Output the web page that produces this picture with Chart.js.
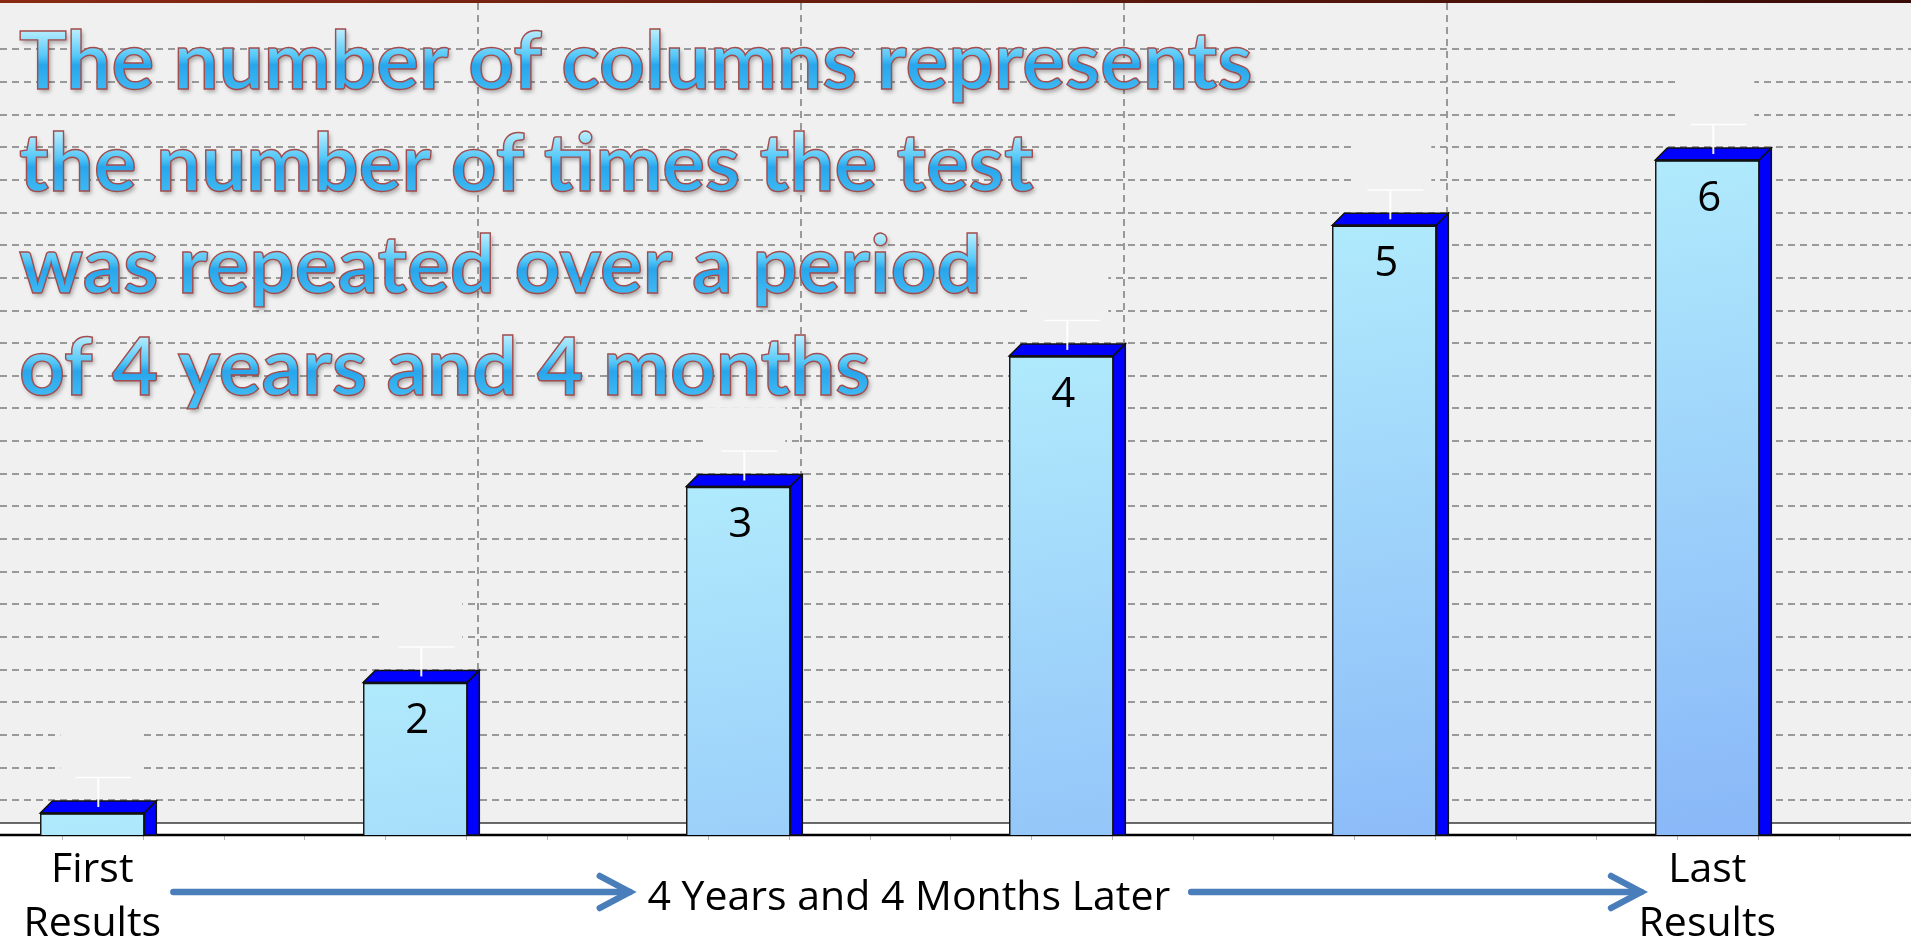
<!DOCTYPE html>
<html>
<head>
<meta charset="utf-8">
<script src="https://cdn.jsdelivr.net/npm/chart.js@4"></script>
<style>
  html, body { margin: 0; padding: 0; background: #fff; }
  #main_chart { display: block; }
</style>
</head>
<body>
<canvas id="main_chart" width="1911" height="943"></canvas>
<script>
// data
const categories = [['First', 'Results'], '', '', '', '', ['Last', 'Results']];
const positions = [1, 2, 3, 4, 5, 6];
const counts = [1, 5, 11, 15, 19, 21];
const test_numbers = [1, 2, 3, 4, 5, 6];
const error_plus = [0.9, 0.9, 0.9, 0.9, 0.9, 0.9];
const title_lines = [
  'The number of columns represents',
  'the number of times the test',
  'was repeated over a period',
  'of 4 years and 4 months',
];
const span_label = '4 Years and 4 Months Later';

// scale ranges (pixel layout of the original)
const x_min = 0.7142, x_max = 6.6306;
const grid_shift = 0.193;
const y_min = 0.326, y_max = 25.808;
const back_shift = 0.389;
const DEPTH = 12;

const grid_color = '#999999';

const front_gradient = (ctx) => {
  const { chart, dataIndex } = ctx;
  const { chartArea, scales } = chart;
  if (!chartArea || !scales.y) return '#a8e2fa';
  const top = scales.y.getPixelForValue(counts[dataIndex]);
  const cx = scales.x.getPixelForValue(positions[dataIndex]);
  const g = chart.ctx.createLinearGradient(cx - 52, top, cx + 52, top + 690);
  g.addColorStop(0, '#b0eafc');
  g.addColorStop(1, '#88b6f8');
  return g;
};

const line = (ctx, x1, y1, x2, y2) => {
  ctx.beginPath();
  ctx.moveTo(x1, y1);
  ctx.lineTo(x2, y2);
  ctx.stroke();
};

const arrow = (ctx, x1, x2, y) => {
  ctx.beginPath();
  ctx.moveTo(x1, y);
  ctx.lineTo(x2, y);
  ctx.stroke();
  ctx.beginPath();
  ctx.moveTo(x2 - 30, y - 16);
  ctx.lineTo(x2, y);
  ctx.lineTo(x2 - 30, y + 16);
  ctx.stroke();
};

const wall_plugin = {
  id: 'wall',
  beforeDraw(chart) {
    const { ctx, chartArea: a, width, height } = chart;
    ctx.save();
    ctx.fillStyle = '#ffffff';
    ctx.fillRect(0, 0, width, height);
    ctx.fillStyle = '#f0f0f0';
    ctx.fillRect(a.left, 0, a.right - a.left, a.bottom);
    ctx.restore();
  },
  beforeDatasetsDraw(chart) {
    const { ctx, chartArea: a, scales: { x, y } } = chart;
    ctx.save();
    // floor
    ctx.fillStyle = '#ffffff';
    ctx.fillRect(a.left, a.bottom - DEPTH, a.right - a.left, DEPTH);
    ctx.strokeStyle = '#3a3a3a';
    ctx.lineWidth = 1.6;
    line(ctx, a.left, a.bottom - DEPTH, a.right, a.bottom - DEPTH);
    ctx.strokeStyle = '#000000';
    ctx.lineWidth = 2.6;
    line(ctx, a.left, a.bottom, a.right, a.bottom);
    // empty label boxes above the error bars
    ctx.fillStyle = '#f0f0f0';
    positions.forEach((p, i) => {
      const cx = x.getPixelForValue(p);
      const cap = y.getPixelForValue(counts[i] + error_plus[i]) - DEPTH / 2;
      ctx.fillRect(cx - 32, cap - 44, 79, 43);
    });
    ctx.restore();
  },
  afterDatasetsDraw(chart) {
    const { ctx, chartArea: a, scales: { y } } = chart;
    const meta = chart.getDatasetMeta(0);
    ctx.save();
    meta.data.forEach((bar, i) => {
      const { x: cx, y: top, width } = bar.getProps(['x', 'y', 'width'], true);
      const l = cx - width / 2, r = cx + width / 2;
      ctx.fillStyle = '#0000ff';
      ctx.strokeStyle = '#111111';
      ctx.lineWidth = 1.5;
      ctx.lineJoin = 'miter';
      // top face
      ctx.beginPath();
      ctx.moveTo(l, top);
      ctx.lineTo(l + DEPTH, top - DEPTH);
      ctx.lineTo(r + DEPTH, top - DEPTH);
      ctx.lineTo(r, top);
      ctx.closePath();
      ctx.fill();
      ctx.stroke();
      // side face
      ctx.beginPath();
      ctx.moveTo(r, top);
      ctx.lineTo(r + DEPTH, top - DEPTH);
      ctx.lineTo(r + DEPTH, a.bottom);
      ctx.lineTo(r, a.bottom);
      ctx.closePath();
      ctx.fill();
      ctx.stroke();
      // front top edge
      ctx.lineWidth = 2.5;
      line(ctx, l, top + 0.5, r, top + 0.5);

      // white error bar
      const ex = cx + DEPTH / 2;
      const cap = y.getPixelForValue(counts[i] + error_plus[i]) - DEPTH / 2;
      ctx.strokeStyle = 'rgba(255,255,255,0.95)';
      ctx.lineWidth = 2;
      line(ctx, ex, top - DEPTH / 2, ex, cap);
      ctx.strokeStyle = 'rgba(255,255,255,0.9)';
      ctx.lineWidth = 1.5;
      line(ctx, cx - 17, cap, cx + 39, cap);

      // test number inside the column
      if (a.bottom - top > 60) {
        ctx.fillStyle = '#000000';
        ctx.font = '42px "Open Sans"';
        ctx.textAlign = 'center';
        ctx.textBaseline = 'middle';
        ctx.fillText(String(test_numbers[i]), cx + 2, top + 39);
      }
    });
    ctx.restore();
  },
  afterDraw(chart) {
    const { ctx, chartArea: a, width, scales: { x } } = chart;
    ctx.save();

    // period annotation with arrows
    const ay = a.bottom + 57;
    ctx.strokeStyle = '#4a7ebb';
    ctx.lineWidth = 6.5;
    ctx.lineCap = 'round';
    ctx.lineJoin = 'miter';
    arrow(ctx, x.getPixelForValue(1.251), x.getPixelForValue(2.664), ay);
    arrow(ctx, x.getPixelForValue(4.402), x.getPixelForValue(5.795), ay);
    ctx.fillStyle = '#000000';
    ctx.font = '41px "Open Sans"';
    ctx.textAlign = 'center';
    ctx.textBaseline = 'alphabetic';
    ctx.fillText(span_label, x.getPixelForValue(3.528), a.bottom + 75);

    // glossy title
    ctx.font = 'bold 80px Lato';
    ctx.textAlign = 'left';
    title_lines.forEach((t, i) => {
      const by = 89 + i * 102;
      const g = ctx.createLinearGradient(0, by - 58, 0, by + 4);
      g.addColorStop(0, '#b4ecff');
      g.addColorStop(0.4, '#55c8f8');
      g.addColorStop(0.55, '#28a6ec');
      g.addColorStop(1, '#42bcf4');
      ctx.shadowColor = 'rgba(0,0,0,0.3)';
      ctx.shadowBlur = 4;
      ctx.shadowOffsetX = 2;
      ctx.shadowOffsetY = 3;
      ctx.fillStyle = g;
      ctx.fillText(t, 19, by);
      ctx.shadowColor = 'transparent';
      ctx.strokeStyle = '#a44c4c';
      ctx.lineWidth = 1.4;
      ctx.strokeText(t, 19, by);
    });

    // dark red strip on top
    const rg = ctx.createLinearGradient(0, 0, width, 0);
    rg.addColorStop(0, '#8a2a14');
    rg.addColorStop(1, '#3a0c08');
    ctx.fillStyle = rg;
    ctx.fillRect(0, 0, width, 3);
    ctx.restore();
  },
};

const int_ticks = (scale) => {
  scale.ticks = scale.ticks.filter(t => Number.isInteger(t.value));
};

new Chart('main_chart', {
  type: 'bar',
  data: {
    datasets: [{
      label: 'Tests',
      data: positions.map((p, i) => ({ x: p, y: counts[i] })),
      backgroundColor: front_gradient,
      borderColor: '#1a1a1a',
      borderWidth: 1.5,
      barThickness: 104,
      xAxisID: 'x',
      yAxisID: 'y',
    }],
  },
  options: {
    responsive: false,
    animation: false,
    devicePixelRatio: 1,
    layout: { padding: { top: 3, left: 0, right: 0, bottom: 0 } },
    plugins: { legend: { display: false }, tooltip: { enabled: false } },
    scales: {
      x: {
        type: 'linear', position: 'bottom', weight: 1,
        min: x_min, max: x_max, offset: false,
        grid: { display: false, offset: false },
        border: { display: false },
        afterBuildTicks: s => { s.ticks = positions.map(v => ({ value: v })); },
        afterFit: s => { s.height = 103; },
        ticks: {
          autoSkip: false, maxRotation: 0, padding: -4, color: '#000000',
          font: { family: '"Open Sans"', size: 41, lineHeight: 1.3 },
          callback: v => categories[positions.indexOf(v)] ?? '',
        },
      },
      xMinor: {
        type: 'linear', position: 'bottom', weight: 0,
        min: x_min, max: x_max, offset: false,
        grid: { offset: false, drawOnChartArea: false, drawTicks: true, tickLength: 5, color: '#b8b8b8', lineWidth: 1 },
        border: { display: false },
        ticks: { display: false },
        afterBuildTicks: s => {
          const step = 0.25, origin = 1 + 51 / 323;
          const ticks = [];
          for (let v = origin - Math.ceil((origin - s.min) / step) * step; v <= s.max; v += step) {
            ticks.push({ value: v });
          }
          s.ticks = ticks;
        },
        afterFit: s => { s.height = 5; },
      },
      xGrid: {
        type: 'linear', position: 'top',
        min: x_min - grid_shift, max: x_max - grid_shift, offset: false,
        grid: { offset: false, drawTicks: false, color: grid_color, lineWidth: 2 },
        border: { display: false, dash: [7, 5] },
        ticks: { display: false, stepSize: 1 },
        afterBuildTicks: int_ticks,
      },
      y: {
        display: false,
        min: y_min, max: y_max,
      },
      yBack: {
        position: 'left',
        min: y_min - back_shift, max: y_max - back_shift,
        grid: { drawTicks: false, color: grid_color, lineWidth: 2 },
        border: { display: false, dash: [7, 5] },
        ticks: { display: false, stepSize: 1 },
        afterBuildTicks: int_ticks,
      },
    },
  },
  plugins: [wall_plugin],
});
</script>
</body>
</html>
